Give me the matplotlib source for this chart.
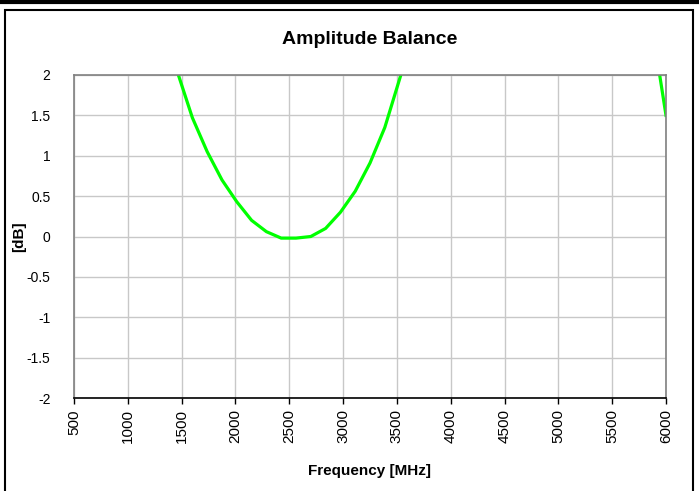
import matplotlib
matplotlib.use("Agg")
import matplotlib.pyplot as plt
from matplotlib.patches import Rectangle
from matplotlib.lines import Line2D

plt.rcParams['font.family'] = ['Liberation Sans', 'DejaVu Sans']

freq = [1325.0, 1462.5, 1600.0, 1737.5, 1875.0, 2012.5, 2150.0, 2287.5, 2425.0,
        2562.5, 2700.0, 2837.5, 2975.0, 3112.5, 3250.0, 3387.5, 3525.0, 3662.5,
        3800.0, 4500.0, 5200.0, 5862.5, 6000.0]
balance = [2.60, 2.03, 1.47, 1.05, 0.70, 0.43, 0.20, 0.06, -0.02,
           -0.02, 0.00, 0.10, 0.30, 0.56, 0.91, 1.35, 1.95, 2.55,
           3.10, 4.50, 4.00, 2.67, 1.50]
xticks = [500, 1000, 1500, 2000, 2500, 3000, 3500, 4000, 4500, 5000, 5500, 6000]
yticks = [-2, -1.5, -1, -0.5, 0, 0.5, 1, 1.5, 2]
ytick_labels = ['-2', '-1.5', '-1', '-0.5', '0', '0.5', '1', '1.5', '2']

fig = plt.figure(figsize=(6.99, 4.91), dpi=100)
ax = fig.add_axes([74/699, 1 - 398/491, (666 - 74)/699, (398 - 75)/491])

ax.plot(freq, balance, color='#00ff00', lw=2.3, solid_joinstyle='miter')
ax.set_xlim(500, 6000)
ax.set_ylim(-2, 2)
ax.set_xticks(xticks)
ax.set_xticklabels([str(t) for t in xticks], rotation=90, fontsize=11)
ax.set_yticks(yticks)
ax.set_yticklabels(ytick_labels, fontsize=10)
ax.grid(True, color='#c8c8c8', lw=1)
ax.set_axisbelow(True)
for s in ['top', 'right', 'left']:
    ax.spines[s].set_color('#808080')
    ax.spines[s].set_linewidth(1.2)
ax.spines['bottom'].set_color('black')
ax.spines['bottom'].set_linewidth(1.2)
ax.tick_params(axis='y', length=0, pad=17)
ax.tick_params(axis='x', direction='out', length=4, width=1, color='black', pad=4)

ax.set_title('Amplitude Balance', fontsize=14, fontweight='bold', pad=22)
ax.set_xlabel('Frequency [MHz]', fontsize=11, fontweight='bold', labelpad=15)
ax.set_ylabel('[dB]', fontsize=11, fontweight='bold')
ax.yaxis.set_label_coords((26 - 74) / 592, 0.5)

# outer frame
fig.patches.append(Rectangle((5/699, -0.01), (693 - 5)/699, (491 - 10)/491 + 0.01,
                             transform=fig.transFigure, fill=False, ec='black', lw=1.5))
fig.lines.append(Line2D([0, 1], [1 - 2/491, 1 - 2/491], transform=fig.transFigure,
                        color='black', lw=3))

fig.savefig('out.png', dpi=100)
